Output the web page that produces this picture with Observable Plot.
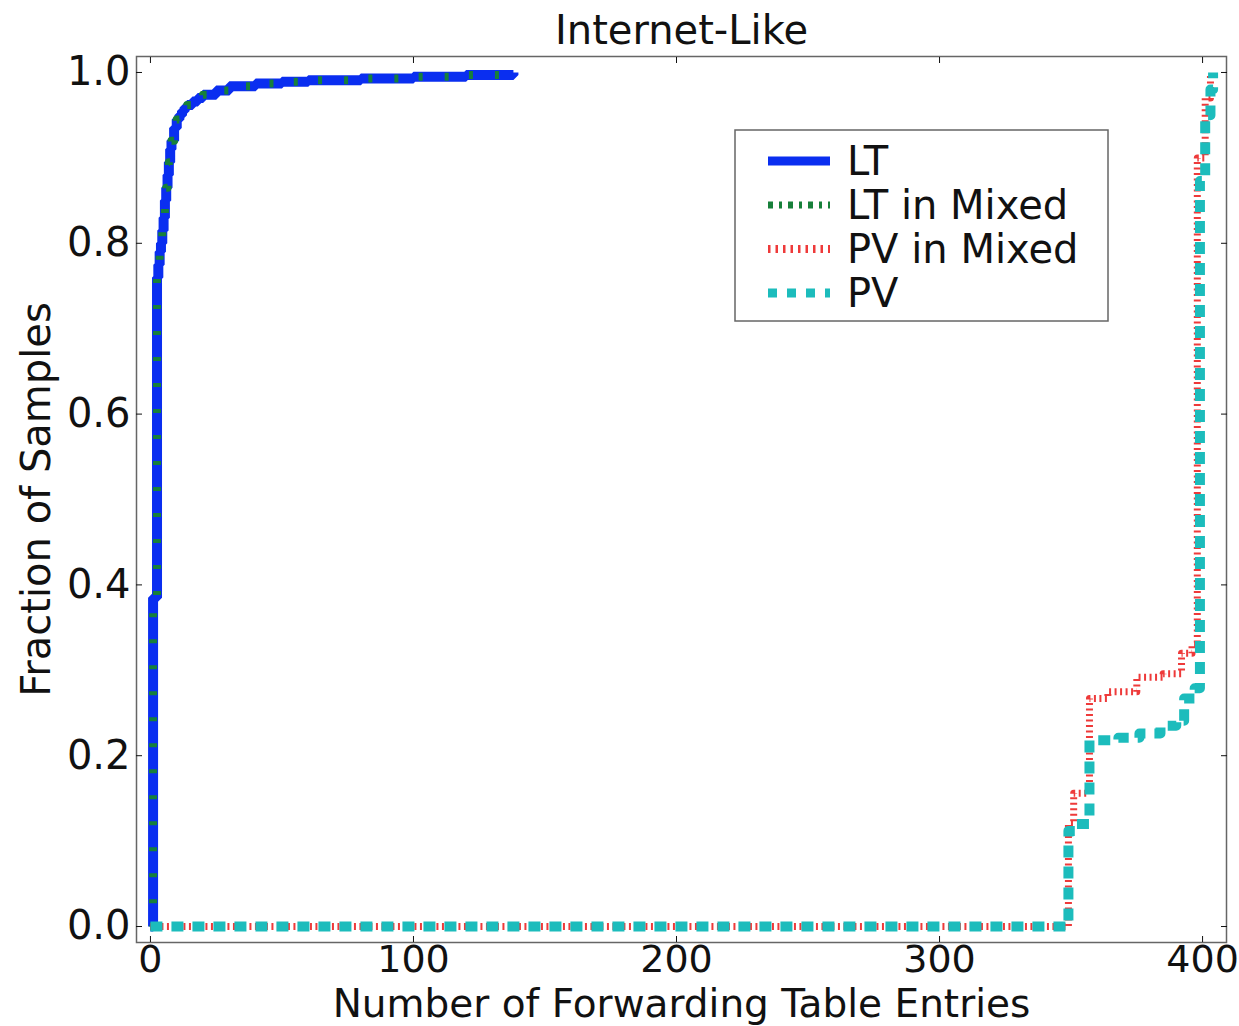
<!DOCTYPE html>
<html><head><meta charset="utf-8">
<script src="https://cdn.jsdelivr.net/npm/d3@7"></script>
<script src="https://cdn.jsdelivr.net/npm/@observablehq/plot@0.6"></script>
<style>body{margin:0;background:#fff;} svg{display:block}</style>
</head><body><div id="chart"></div>
<script>
const title = "Internet-Like";
const xLabel = "Number of Forwarding Table Entries";
const yLabel = "Fraction of Samples";
const xTicks = [0, 100, 200, 300, 400];
const yTicks = [0, 0.2, 0.4, 0.6, 0.8, 1.0];
const seriesNames = ["LT", "LT in Mixed", "PV in Mixed", "PV"];

// LT (CDF)
const ltX = [0, 1, 2.5, 3, 3.5, 4, 4.5, 5, 5.5, 6, 6.5, 7, 7.5, 8, 9, 10, 11, 12, 13, 14, 16, 18, 20, 25, 30, 40, 50, 60, 80, 100, 120, 138];
const ltY = [0, 0.385, 0.76, 0.775, 0.79, 0.80, 0.815, 0.83, 0.85, 0.865, 0.88, 0.895, 0.91, 0.92, 0.935, 0.945, 0.95, 0.955, 0.959, 0.962, 0.966, 0.97, 0.974, 0.979, 0.984, 0.987, 0.989, 0.991, 0.993, 0.995, 0.997, 1.0];
// LT in Mixed (overlaps LT)
const ltMixX = [0, 1, 2.5, 3, 3.5, 4, 4.5, 5, 5.5, 6, 6.5, 7, 7.5, 8, 9, 10, 11, 12, 13, 14, 16, 18, 20, 25, 30, 40, 50, 60, 80, 100, 120, 138];
const ltMixY = [0, 0.385, 0.76, 0.775, 0.79, 0.80, 0.815, 0.83, 0.85, 0.865, 0.88, 0.895, 0.91, 0.92, 0.935, 0.945, 0.95, 0.955, 0.959, 0.962, 0.966, 0.97, 0.974, 0.979, 0.984, 0.987, 0.989, 0.991, 0.993, 0.995, 0.997, 1.0];
// PV in Mixed
const pvMixX = [0, 349, 351, 357, 364, 375, 385, 392, 396, 398, 401, 403];
const pvMixY = [0, 0.12, 0.156, 0.267, 0.275, 0.292, 0.296, 0.32, 0.33, 0.9, 0.97, 1.0];
// PV
const pvX = [0, 349, 352, 357, 368, 376, 384, 390, 393, 397, 399, 401, 403, 404];
const pvY = [0, 0.112, 0.12, 0.218, 0.221, 0.226, 0.235, 0.241, 0.267, 0.279, 0.873, 0.95, 0.98, 1.0];

const toRows = (xs, ys, s) => xs.map((x, i) => ({x, y: ys[i], s}));
const lt = toRows(ltX, ltY, seriesNames[0]);
const ltMix = toRows(ltMixX, ltMixY, seriesNames[1]);
const pvMix = toRows(pvMixX, pvMixY, seriesNames[2]);
const pv = toRows(pvX, pvY, seriesNames[3]);

const colors = {blue: "#0a2ef0", green: "#17803a", red: "#ee3a3a", cyan: "#1cbcbc"};
const font = "DejaVu Sans";
const fs = 40;

const plot = Plot.plot({
  width: 1239,
  height: 1026,
  marginTop: 56,
  marginBottom: 84,
  marginLeft: 136,
  marginRight: 13,
  style: {fontFamily: font, fontSize: fs + "px", color: "#111", background: "#fff"},
  x: {domain: [-5.3, 409.1], label: null},
  y: {domain: [-0.0187, 1.0187], label: null},
  marks: [
    Plot.line(lt, {x: "x", y: "y", curve: "step-after", stroke: colors.blue, strokeWidth: 10, strokeLinecap: "butt", strokeLinejoin: "miter"}),
    Plot.line(ltMix, {x: "x", y: "y", curve: "step-after", stroke: colors.green, strokeWidth: 8, strokeDasharray: "4,22", strokeLinecap: "butt"}),
    Plot.line(pvMix, {x: "x", y: "y", curve: "step-after", stroke: colors.red, strokeWidth: 7, strokeDasharray: "2,3.5", strokeLinecap: "butt"}),
    Plot.line(pv, {x: "x", y: "y", curve: "step-after", stroke: colors.cyan, strokeWidth: 10, strokeDasharray: "12,9", strokeLinecap: "butt"}),
    Plot.frame({stroke: "#666", strokeWidth: 1.5}),
    Plot.axisX({anchor: "bottom", ticks: xTicks, tickSize: -6, tickPadding: 9, tickFormat: d => String(d), label: null, fontSize: 38}),
    Plot.axisX({anchor: "top", ticks: xTicks, tickSize: -6, tickFormat: () => "", label: null}),
    Plot.axisY({anchor: "left", ticks: yTicks, tickSize: -6, tickPadding: 12, tickFormat: d => d.toFixed(1), label: null, fontSize: fs}),
    Plot.axisY({anchor: "right", ticks: yTicks, tickSize: -6, tickFormat: () => "", label: null}),
    Plot.text([title], {text: d => d, frameAnchor: "top", lineAnchor: "middle", textAnchor: "middle", dy: -25, fontSize: fs, fill: "#111"}),
    Plot.text([xLabel], {text: d => d, frameAnchor: "bottom", lineAnchor: "middle", textAnchor: "middle", dy: 62, fontSize: 39, fill: "#111"}),
    Plot.text([yLabel], {text: d => d, frameAnchor: "left", lineAnchor: "middle", textAnchor: "middle", dx: -99, rotate: -90, fontSize: fs, fill: "#111"})
  ]
});
document.getElementById("chart").appendChild(plot);

// Legend
const svg = d3.select(plot);
const lg = svg.append("g").attr("font-family", font).attr("font-size", fs).attr("text-anchor", "start");
lg.append("rect").attr("x", 735).attr("y", 130).attr("width", 373).attr("height", 191)
  .attr("fill", "#fff").attr("stroke", "#666").attr("stroke-width", 1.5);
const legendItems = [
  {name: seriesNames[0], color: colors.blue, w: 9, dash: null},
  {name: seriesNames[1], color: colors.green, w: 7, dash: "5,6,3,6"},
  {name: seriesNames[2], color: colors.red, w: 8, dash: "2.5,5"},
  {name: seriesNames[3], color: colors.cyan, w: 9, dash: "9,10"}
];
legendItems.forEach((it, i) => {
  const cy = 161 + i * 44;
  lg.append("line").attr("x1", 768).attr("x2", 830).attr("y1", cy).attr("y2", cy)
    .attr("stroke", it.color).attr("stroke-width", it.w).attr("stroke-dasharray", it.dash);
  lg.append("text").attr("x", 847).attr("y", cy).attr("dy", "0.36em").attr("text-anchor", "start").attr("fill", "#111").text(it.name);
});
</script>
</body></html>
